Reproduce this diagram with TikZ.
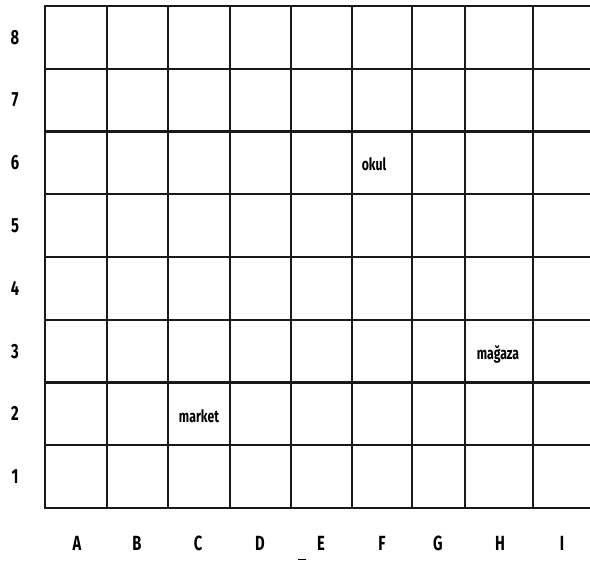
\documentclass[tikz,border=0pt]{standalone}
\usepackage{fontspec}
\usepackage{tikz}
\usetikzlibrary{positioning}
\newfontfamily\gridfont[FakeStretch=0.72]{Fira Sans}
\tikzset{
  every picture/.append style={line cap=rect,line join=miter},
  grid line/.style={line width=2.4pt,black!90},
  axis label/.style={font=\gridfont\bfseries\fontsize{20.5}{20.5}\selectfont,inner sep=0pt},
  place label/.style={font=\gridfont\bfseries\fontsize{17}{17}\selectfont,inner sep=0pt}
}
\begin{document}
\begin{tikzpicture}[x=1pt,y=-1pt]
  \useasboundingbox (0,0) rectangle (590,561);
  % vertical lines
  \foreach \xv in {45,107,168,230,291,352,412,465,533}
    \draw[grid line] (\xv,6) -- (\xv,508);
  % horizontal lines
  \foreach \r in {0,...,8}
    \draw[grid line] (45,6+62.75*\r) -- (590,6+62.75*\r);
  % row numbers
  \foreach \n [count=\r from 0] in {8,7,6,5,4,3,2,1}
    \node[axis label] (row\n) at (15,37.4+62.75*\r) {\n};
  % column letters
  \foreach \c/\xc in {A/77,B/137,C/198,D/260,E/321,F/382,G/438,H/500,I/562}
    \node[axis label] (col\c) at (\xc,543) {\c};
  \draw[line width=0.8pt] (298,559.5) -- (306,559.5);
  % places
  \node[place label] (okul) at (374,164) {okul};
  \node[place label] (market) at (199,416) {market};
  \node[place label] (magaza) at (498,354) {mağaza};
\end{tikzpicture}
\end{document}
